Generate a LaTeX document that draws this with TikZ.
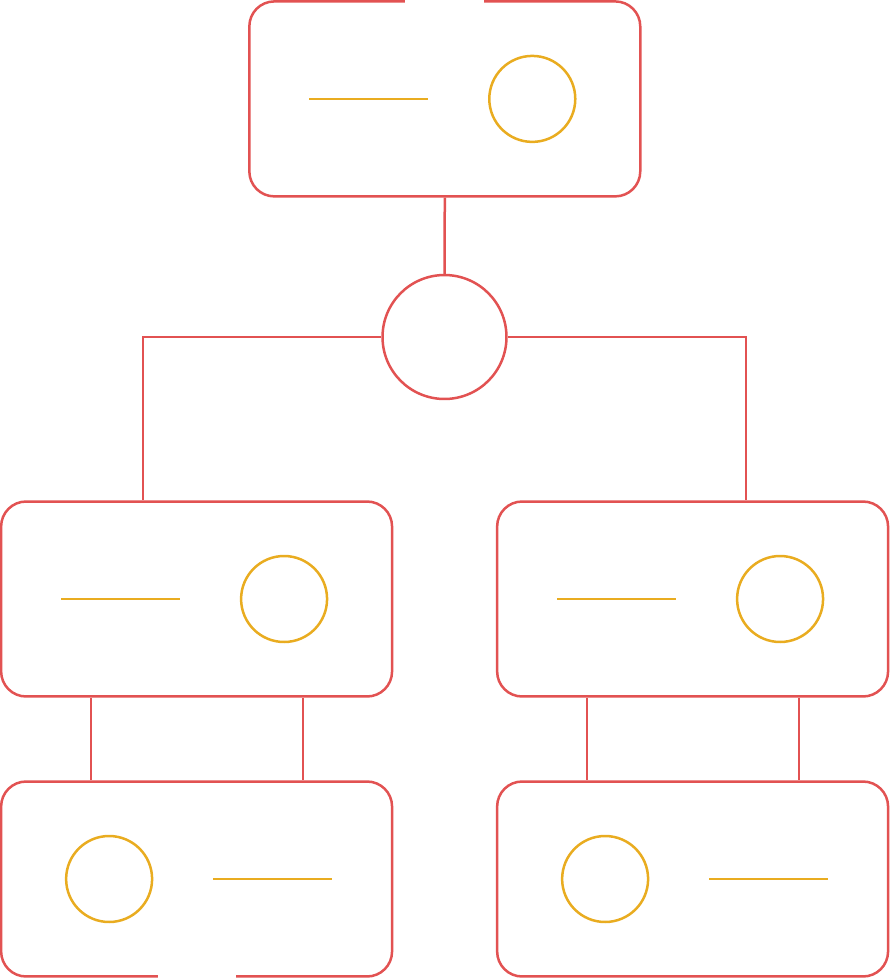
\documentclass[tikz,border=0pt]{standalone}
\usepackage{xcolor}
\usetikzlibrary{positioning, calc}
\definecolor{linered}{RGB}{226,82,82}
\definecolor{markgold}{RGB}{233,172,32}

\begin{document}
\begin{tikzpicture}[x=0.02cm, y=-0.02cm, line width=0.05cm,
    card/.style={draw=linered, rounded corners=0.5cm, minimum width=7.82cm, minimum height=3.9cm, inner sep=0pt},
    hub/.style={draw=linered, circle, minimum size=2.48cm, inner sep=0pt},
    ring/.style={draw=markgold, circle, minimum size=1.72cm, inner sep=0pt},
    bar/.style={draw=markgold},
    wire/.style={draw=linered}]
\useasboundingbox (0,0) rectangle (890,980);

% boxes
\node[card] (top) at (444.8,98.9) {};
\node[hub] (root) at (444.5,337) {};
\node[card] (midL) at (196.6,599) {};
\node[card] (midR) at (692.6,599) {};
\node[card] (botL) at (196.6,879) {};
\node[card] (botR) at (692.6,879) {};

% openings in the outline
\fill[white] (405,-3) rectangle (484,4);
\fill[white] (158,975) rectangle (236,983);

% wires
\draw[wire] (top.south) -- (root.north);
\draw[wire] (root.west) -| ([xshift=-1.07cm]midL.north);
\draw[wire] (root.east) -| ([xshift=1.07cm]midR.north);
\foreach \a/\b in {midL/botL, midR/botR} {
    \draw[wire] ([xshift=-2.11cm]\a.south) -- ([xshift=-2.11cm]\b.north);
    \draw[wire] ([xshift=2.13cm]\a.south) -- ([xshift=2.13cm]\b.north);
}

% inner marks
\foreach \n in {top, midL, midR} {
    \draw[bar] ([xshift=-2.71cm]\n.center) -- ([xshift=-0.33cm]\n.center);
    \node[ring] (\n-ring) at ([xshift=1.75cm]\n.center) {};
}
\foreach \n in {botL, botR} {
    \node[ring] (\n-ring) at ([xshift=-1.75cm]\n.center) {};
    \draw[bar] ([xshift=0.33cm]\n.center) -- ([xshift=2.71cm]\n.center);
}
\end{tikzpicture}
\end{document}
